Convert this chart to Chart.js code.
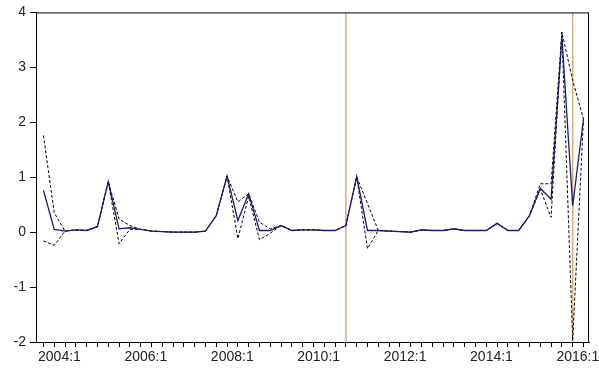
<!DOCTYPE html>
<html>
<head>
<meta charset="utf-8">
<script src="https://cdn.jsdelivr.net/npm/chart.js@4/dist/chart.umd.min.js"></script>
<style>
  html, body { margin: 0; padding: 0; background: #fff; }
  #wrap { width: 599px; height: 376px; }
</style>
</head>
<body>
<div id="wrap"><canvas id="chart"></canvas></div>
<script>
// quarterly observations 2004:1 .. 2016:3
const quarters = [
  "2004:1","2004:2","2004:3","2004:4","2005:1","2005:2","2005:3","2005:4",
  "2006:1","2006:2","2006:3","2006:4","2007:1","2007:2","2007:3","2007:4",
  "2008:1","2008:2","2008:3","2008:4","2009:1","2009:2","2009:3","2009:4",
  "2010:1","2010:2","2010:3","2010:4","2011:1","2011:2","2011:3","2011:4",
  "2012:1","2012:2","2012:3","2012:4","2013:1","2013:2","2013:3","2013:4",
  "2014:1","2014:2","2014:3","2014:4","2015:1","2015:2","2015:3","2015:4",
  "2016:1","2016:2","2016:3"
];
const tickLabels = ["2004:1","2006:1","2008:1","2010:1","2012:1","2014:1","2016:1"];

// solid navy series
const actual = [
  0.76, 0.05, 0.02, 0.04, 0.03, 0.10, 0.92, 0.06, 0.08, 0.05, 0.02, 0.01, 0.00, 0.00, 0.00, 0.02,
  0.30, 1.02, 0.21, 0.70, 0.03, 0.03, 0.12, 0.03, 0.04, 0.04, 0.03, 0.03, 0.12, 1.01, 0.03, 0.03,
  0.02, 0.01, 0.00, 0.04, 0.03, 0.03, 0.06, 0.03, 0.03, 0.03, 0.16, 0.03, 0.03, 0.30, 0.80, 0.60,
  3.55, 0.48, 2.06
];
// dashed band, upper
const upper = [
  1.76, 0.35, 0.02, 0.04, 0.03, 0.10, 0.92, 0.24, 0.12, 0.05, 0.02, 0.01, 0.00, 0.00, 0.00, 0.02,
  0.30, 1.02, 0.55, 0.70, 0.18, 0.06, 0.12, 0.03, 0.04, 0.04, 0.03, 0.03, 0.12, 1.01, 0.52, 0.03,
  0.02, 0.01, 0.00, 0.04, 0.03, 0.03, 0.06, 0.03, 0.03, 0.03, 0.16, 0.03, 0.03, 0.30, 0.88, 0.88,
  3.64, 2.76, 2.06
];
// dashed band, lower
const lower = [
  -0.16, -0.24, 0.02, 0.04, 0.03, 0.10, 0.92, -0.21, 0.05, 0.05, 0.02, 0.01, 0.00, 0.00, 0.00, 0.02,
  0.30, 1.02, -0.12, 0.65, -0.14, -0.02, 0.12, 0.03, 0.04, 0.04, 0.03, 0.03, 0.12, 1.01, -0.30, 0.03,
  0.02, 0.01, 0.00, 0.04, 0.03, 0.03, 0.06, 0.03, 0.03, 0.03, 0.16, 0.03, 0.03, 0.30, 0.78, 0.27,
  3.64, -1.97, 2.06
];
// vertical break markers (observation index)
const breaks = ["2011:1", "2016:2"];

const pts = arr => arr.map((v, i) => ({ x: i, y: v }));
const vline = q => [{ x: quarters.indexOf(q), y: -2 }, { x: quarters.indexOf(q), y: 4 }];

const frame = {
  id: "frame",
  afterDatasetsDraw(chart) {
    const a = chart.chartArea, c = chart.ctx;
    c.save();
    c.strokeStyle = "#000";
    c.lineWidth = 1;
    c.strokeRect(a.left + 0.5, a.top + 0.5, a.right - a.left - 1, a.bottom - a.top);
    c.restore();
  }
};

const ctx = document.getElementById("chart").getContext("2d");
new Chart(ctx, {
  type: "line",
  data: {
    datasets: [
      { data: pts(actual), borderColor: "#1a1a70", borderWidth: 1.3, pointRadius: 0, tension: 0 },
      { data: pts(upper), borderColor: "#000", borderWidth: 1, borderDash: [3, 2], pointRadius: 0, tension: 0 },
      { data: pts(lower), borderColor: "#000", borderWidth: 1, borderDash: [3, 2], pointRadius: 0, tension: 0 },
      { data: vline(breaks[0]), borderColor: "#e3a677", borderWidth: 1.5, pointRadius: 0 },
      { data: vline(breaks[1]), borderColor: "#e3a677", borderWidth: 1.5, pointRadius: 0 }
    ]
  },
  options: {
    responsive: true,
    maintainAspectRatio: false,
    animation: false,
    layout: { padding: { top: 11, right: 10, left: 0, bottom: 0 } },
    plugins: { legend: { display: false }, tooltip: { enabled: false } },
    scales: {
      x: {
        type: "linear",
        min: -0.69,
        max: 50.51,
        afterBuildTicks: s => { s.ticks = quarters.map((q, i) => ({ value: i })); },
        afterFit: s => { s.height = 34; },
        border: { display: true, color: "#000", width: 1 },
        grid: { drawOnChartArea: false, drawTicks: true, tickLength: 5, color: "#000" },
        ticks: {
          autoSkip: false,
          maxRotation: 0,
          padding: 2,
          labelOffset: 16,
          color: "#222",
          font: { family: "Liberation Sans, Arial", size: 14 },
          callback: (v) => tickLabels.includes(quarters[v]) ? quarters[v] : ""
        }
      },
      y: {
        min: -2,
        max: 4,
        afterFit: s => { s.width = 36; },
        border: { display: true, color: "#000", width: 1 },
        grid: { drawOnChartArea: false, drawTicks: true, tickLength: 6, color: "#000" },
        ticks: {
          stepSize: 1,
          padding: 4,
          color: "#222",
          font: { family: "Liberation Sans, Arial", size: 14 }
        }
      }
    }
  },
  plugins: [frame]
});
</script>
</body>
</html>
